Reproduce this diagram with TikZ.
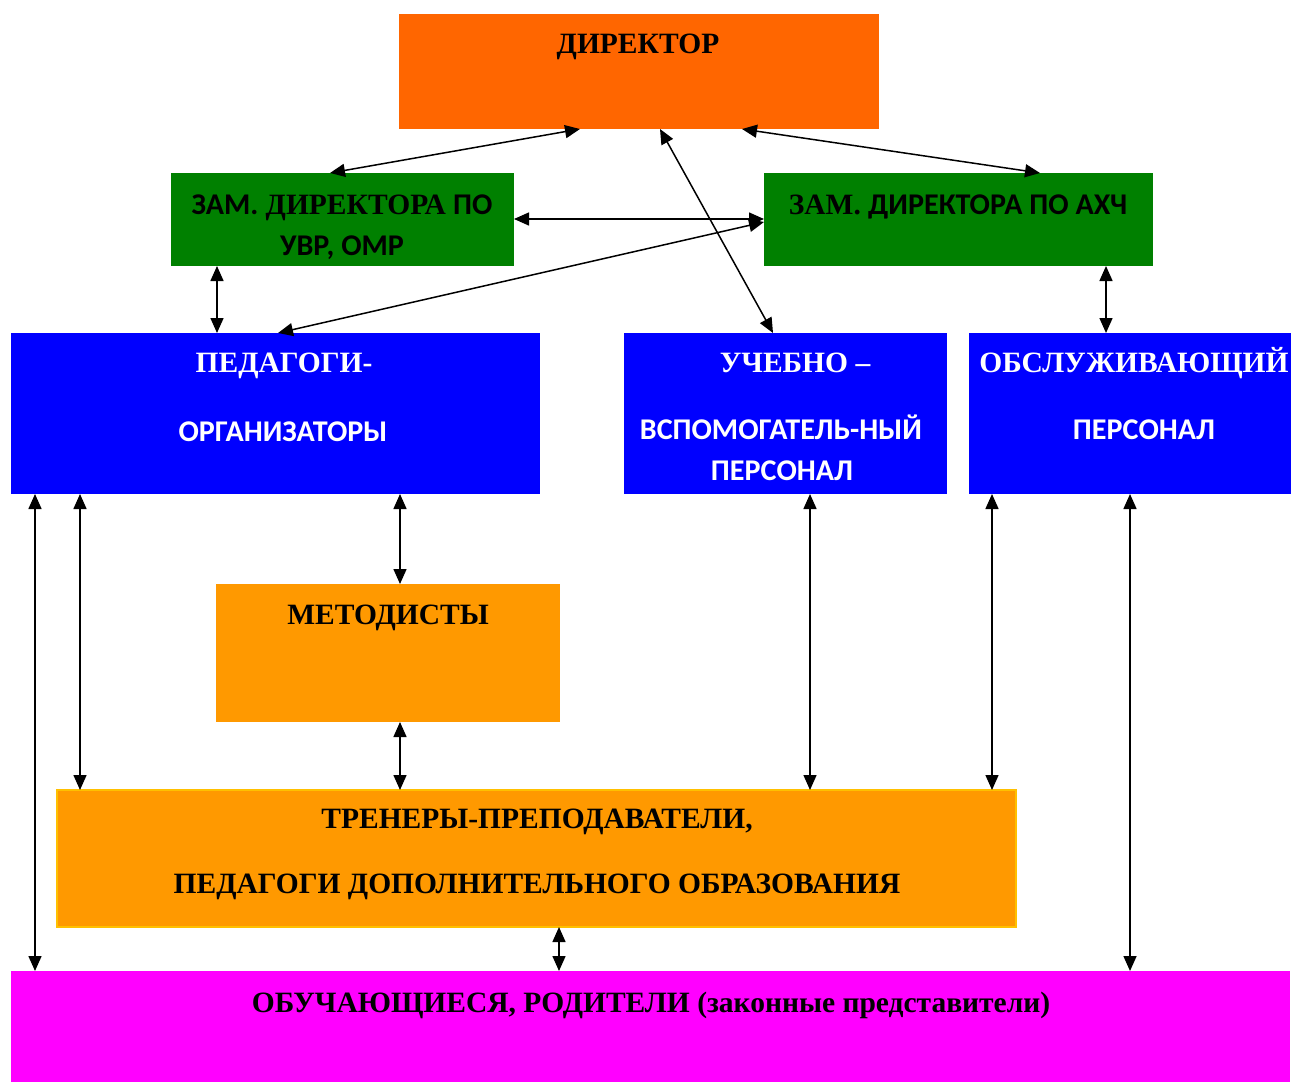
\documentclass[tikz,border=0pt]{standalone}
\usepackage{fontspec}
\setmainfont{Liberation Serif}
\newfontfamily\calfam[Scale=1.02]{Carlito}
\usetikzlibrary{arrows.meta}
\definecolor{cdir}{HTML}{FF6600}
\definecolor{cgreen}{HTML}{008000}
\definecolor{cblue}{HTML}{0000FF}
\definecolor{corange}{HTML}{FF9900}
\definecolor{cyel}{HTML}{FFC000}
\definecolor{cmag}{HTML}{FF00FF}
\tikzset{
  box/.style={rectangle, inner sep=0pt, outer sep=0pt, anchor=north west},
  lbl/.style={anchor=base, inner sep=0pt, font=\fontsize{29.5}{34}\selectfont\bfseries},
  lblw/.style={lbl, text=white},
  conn/.style={{Triangle[length=15pt,width=13pt]}-{Triangle[length=15pt,width=13pt]}, line width=1.5pt}
}
\begin{document}
\begin{tikzpicture}[x=1pt,y=-1pt]
\useasboundingbox (0,0) rectangle (1292,1081);
\node[box, fill=cdir, minimum width=480pt, minimum height=115pt] (dir) at (399,14) {};
\node[box, fill=cgreen, minimum width=343pt, minimum height=93pt] (uvr) at (171,173) {};
\node[box, fill=cgreen, minimum width=389pt, minimum height=93pt] (ahch) at (764,173) {};
\node[box, fill=cblue, minimum width=529pt, minimum height=161pt] (ped) at (11,333) {};
\node[box, fill=cblue, minimum width=323pt, minimum height=161pt] (uch) at (624,333) {};
\node[box, fill=cblue, minimum width=322pt, minimum height=161pt] (obs) at (969,333) {};
\node[box, fill=corange, minimum width=344pt, minimum height=138pt] (met) at (216,584) {};
\node[box, fill=corange, draw=cyel, line width=1.5pt, minimum width=959pt, minimum height=137pt] (tren) at (57,790) {};
\node[box, fill=cmag, minimum width=1279pt, minimum height=112pt] (obu) at (11,971) {};

\node[lbl] (tdir) at (638,53) {ДИРЕКТОР};
\node[lbl] (tuvr1) at (342,214) {{\calfam ЗАМ.} ДИРЕКТОРА {\calfam ПО}};
\node[lbl] (tuvr2) at (342,255) {\calfam УВР, ОМР};
\node[lbl] (tahch) at (958,214) {ЗАМ. {\calfam ДИРЕКТОРА ПО АХЧ}};
\node[lblw] (tped1) at (284,372) {ПЕДАГОГИ-};
\node[lblw] (tped2) at (283,441) {\calfam ОРГАНИЗАТОРЫ};
\node[lblw] (tuch1) at (795,372) {УЧЕБНО –};
\node[lblw] (tuch2) at (781,439) {\calfam ВСПОМОГАТЕЛЬ-НЫЙ};
\node[lblw] (tuch3) at (782,480) {\calfam ПЕРСОНАЛ};
\node[lblw] (tobs1) at (1134,372) {ОБСЛУЖИВАЮЩИЙ};
\node[lblw] (tobs2) at (1144,439) {\calfam ПЕРСОНАЛ};
\node[lbl] (tmet) at (388,624) {МЕТОДИСТЫ};
\node[lbl] (ttr1) at (537,828) {ТРЕНЕРЫ-ПРЕПОДАВАТЕЛИ,};
\node[lbl] (ttr2) at (537,893) {ПЕДАГОГИ ДОПОЛНИТЕЛЬНОГО ОБРАЗОВАНИЯ};
\node[lbl] (tobu) at (651,1012) {ОБУЧАЮЩИЕСЯ, РОДИТЕЛИ (законные представители)};

\draw[conn] ([xshift=181pt]dir.south west) -- ([xshift=159pt]uvr.north west);
\draw[conn] ([xshift=343pt]dir.south west) -- ([xshift=276pt]ahch.north west);
\draw[conn] ([xshift=261pt]dir.south west) -- ([xshift=149pt]uch.north west);
\draw[conn] ([yshift=-46pt]uvr.north east) -- ([yshift=-46pt]ahch.north west);
\draw[conn] ([yshift=-49pt]ahch.north west) -- ([xshift=267pt]ped.north west);
\draw[conn] ([xshift=46pt]uvr.south west) -- ([xshift=206pt]ped.north west);
\draw[conn] ([xshift=342pt]ahch.south west) -- ([xshift=137pt]obs.north west);
\draw[conn] ([xshift=24pt]ped.south west) -- ([xshift=24pt]obu.north west);
\draw[conn] ([xshift=69pt]ped.south west) -- ([xshift=23pt]tren.north west);
\draw[conn] ([xshift=389pt]ped.south west) -- ([xshift=184pt]met.north west);
\draw[conn] ([xshift=184pt]met.south west) -- ([xshift=343pt]tren.north west);
\draw[conn] ([xshift=186pt]uch.south west) -- ([xshift=753pt]tren.north west);
\draw[conn] ([xshift=23pt]obs.south west) -- ([xshift=935pt]tren.north west);
\draw[conn] ([xshift=161pt]obs.south west) -- ([xshift=1119pt]obu.north west);
\draw[conn] ([xshift=502pt]tren.south west) -- ([xshift=548pt]obu.north west);
\end{tikzpicture}
\end{document}
